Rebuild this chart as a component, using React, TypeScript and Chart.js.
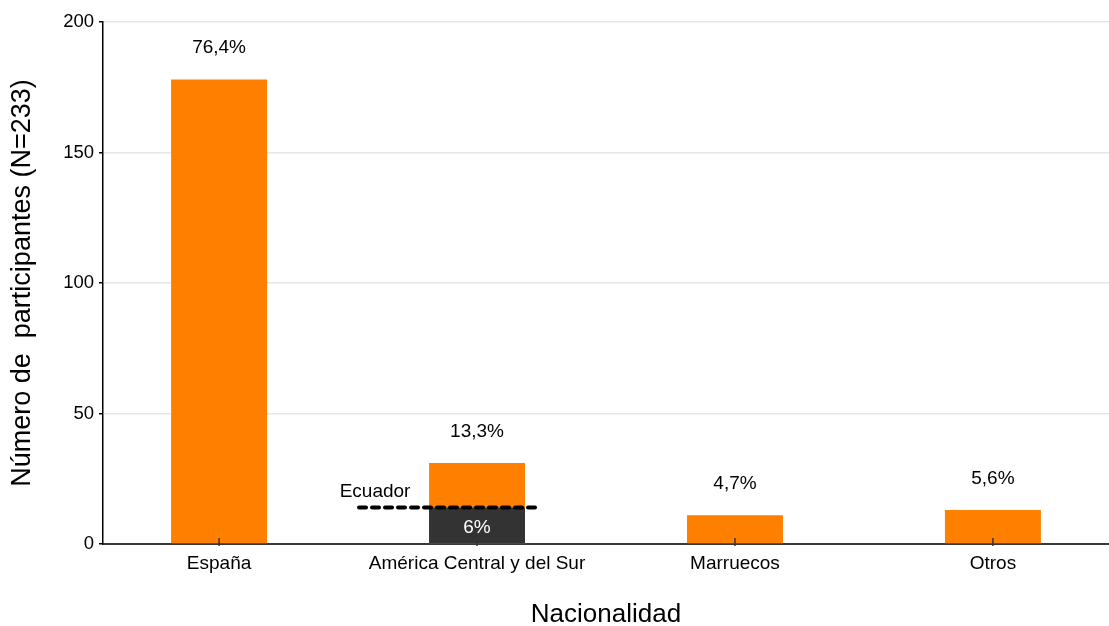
import { useEffect, useRef } from 'react';
import { Chart, registerables } from 'chart.js';

Chart.register(...registerables);

// Participants by nationality (N = 233)
const N = 233;
const categories = ['España', 'América Central y del Sur', 'Marruecos', 'Otros'];
const participants = [178, 31, 11, 13];
// Subgroup of the second category born in Ecuador
const ecuadorLabel = 'Ecuador';
const ecuadorParticipants = [0, 14, 0, 0];
const yTicks = [0, 50, 100, 150, 200];

const yTitle = 'Número de  participantes (N=233)';
const xTitle = 'Nacionalidad';

const ORANGE = '#ff8000';
const DARK = '#333333';
const FONT = "'Liberation Sans', Arial, Helvetica, sans-serif";

const pct = (v: number, digits: number) =>
  ((v / N) * 100).toFixed(digits).replace('.', ',') + '%';

export default function App() {
  const ref = useRef<HTMLCanvasElement>(null);

  useEffect(() => {
    const canvas = ref.current;
    if (!canvas) return;

    const totalPoints = categories.map((_, i) => ({ x: i, y: participants[i] }));
    const ecuadorPoints = categories
      .map((_, i) => ({ x: i, y: ecuadorParticipants[i] }))
      .filter((p) => p.y > 0);

    const annotate = {
      id: 'annotate',
      afterDraw(chart: any) {
        const { ctx } = chart;
        const xs = chart.scales.x;
        const ys = chart.scales.y;
        const base = ys.getPixelForValue(0);
        ctx.save();

        // inner tick marks on the category axis
        ctx.strokeStyle = '#333';
        ctx.lineWidth = 1.5;
        categories.forEach((_, i) => {
          const px = xs.getPixelForValue(i);
          ctx.beginPath();
          ctx.moveTo(px, base - 6);
          ctx.lineTo(px, base + 2);
          ctx.stroke();
        });

        ctx.font = `19px ${FONT}`;
        ctx.textAlign = 'center';
        ctx.textBaseline = 'alphabetic';

        // share of the total above each bar
        chart.getDatasetMeta(1).data.forEach((bar: any, i: number) => {
          ctx.fillStyle = '#000';
          ctx.fillText(pct(participants[i], 1), bar.x, bar.y - 26);
        });

        // Ecuador subgroup: share inside, dashed marker and label
        chart.getDatasetMeta(0).data.forEach((bar: any, k: number) => {
          const v = ecuadorPoints[k].y;
          ctx.fillStyle = '#fff';
          ctx.fillText(pct(v, 0), bar.x, (bar.y + bar.base) / 2 + 8);

          ctx.setLineDash([7, 6]);
          ctx.lineCap = 'round';
          ctx.lineWidth = 4;
          ctx.strokeStyle = '#000';
          ctx.beginPath();
          ctx.moveTo(bar.x - 118, bar.y);
          ctx.lineTo(bar.x + 58, bar.y);
          ctx.stroke();
          ctx.setLineDash([]);

          ctx.fillStyle = '#000';
          ctx.fillText(ecuadorLabel, bar.x - 102, bar.y - 10);
        });

        ctx.restore();
      },
    };

    const chart = new Chart(canvas, {
      type: 'bar',
      data: {
        datasets: [
          {
            label: ecuadorLabel,
            data: ecuadorPoints,
            backgroundColor: DARK,
            grouped: false,
            barPercentage: 0.372,
            categoryPercentage: 1,
          },
          {
            label: 'Participantes',
            data: totalPoints,
            backgroundColor: ORANGE,
            grouped: false,
            barPercentage: 0.372,
            categoryPercentage: 1,
          },
        ],
      } as any,
      options: {
        responsive: false,
        animation: false,
        devicePixelRatio: 1,
        layout: { padding: { top: 22, right: 0, bottom: 0, left: 0 } },
        plugins: {
          legend: { display: false },
          tooltip: { enabled: false },
        },
        scales: {
          x: {
            type: 'linear',
            min: -0.45,
            max: 3.45,
            offset: false,
            z: 1,
            afterBuildTicks: (s: any) => {
              s.ticks = categories.map((_, i) => ({ value: i }));
            },
            afterFit: (s: any) => {
              s.height = 82;
            },
            grid: { display: false, drawTicks: false, offset: false },
            border: { display: true, color: '#3a3a3a', width: 2 },
            ticks: {
              autoSkip: false,
              maxRotation: 0,
              padding: 8,
              color: '#000',
              font: { family: FONT, size: 19 },
              callback: (v: any) => categories[v as number] ?? '',
            },
            title: {
              display: true,
              text: xTitle,
              color: '#000',
              font: { family: FONT, size: 26, lineHeight: 1 },
              padding: { top: 0, bottom: -2 },
            },
          },
          y: {
            min: 0,
            max: 200,
            afterBuildTicks: (s: any) => {
              s.ticks = yTicks.map((v) => ({ value: v }));
            },
            afterFit: (s: any) => {
              s.width = 103;
            },
            grid: {
              color: (c: any) => (c.tick && c.tick.value === 0 ? 'rgba(0,0,0,0)' : '#e6e6e6'),
              lineWidth: 1.5,
              drawTicks: true,
              tickLength: 4,
              tickColor: '#000',
              tickWidth: 1.5,
            },
            border: { display: true, color: '#000', width: 1.5 },
            ticks: {
              padding: 5,
              color: '#000',
              font: { family: FONT, size: 18.5 },
            },
            title: {
              display: true,
              text: yTitle,
              color: '#000',
              font: { family: FONT, size: 27, lineHeight: 1 },
              padding: { top: 9, bottom: 0 },
            },
          },
        },
      } as any,
      plugins: [annotate],
    });

    return () => chart.destroy();
  }, []);

  return (
    <div style={{ position: 'fixed', left: 0, top: 0, width: 1109, height: 626, background: '#fff' }}>
      <canvas ref={ref} width={1109} height={626} style={{ display: 'block' }} />
    </div>
  );
}
